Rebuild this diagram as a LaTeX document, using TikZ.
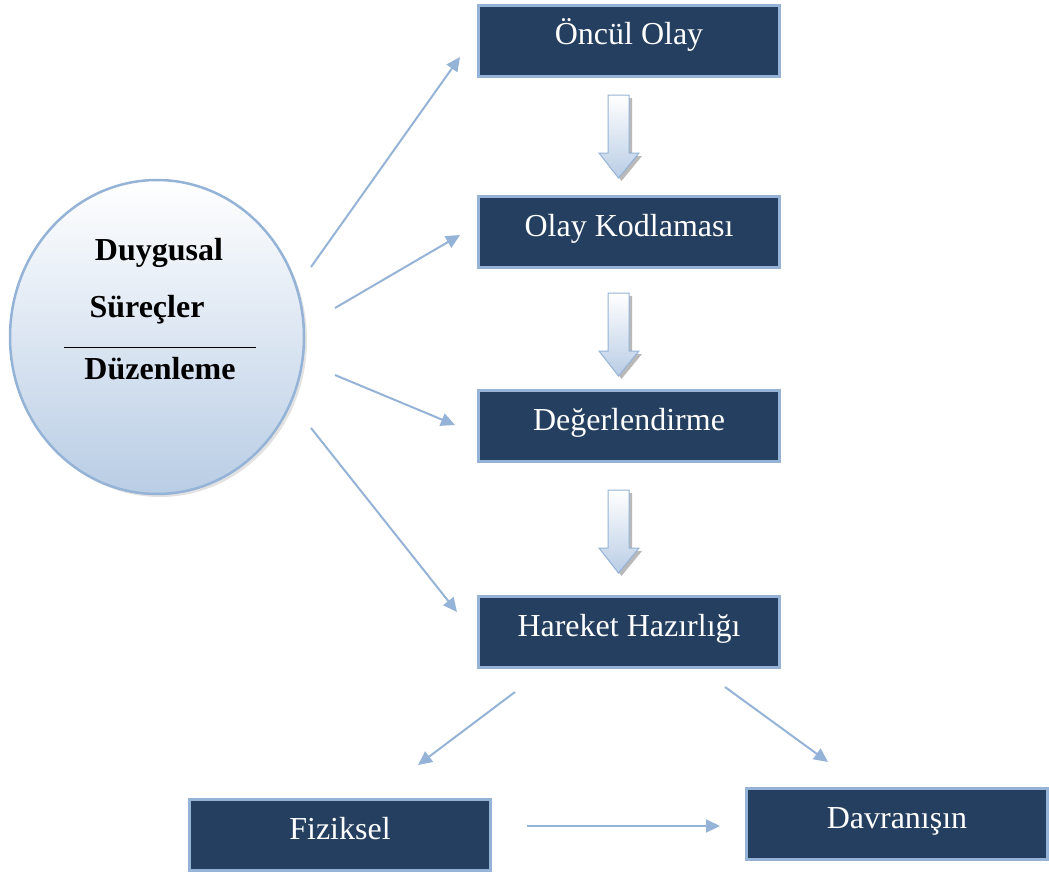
\documentclass[tikz,border=0pt]{standalone}
\usepackage{fontspec}
\setmainfont{Liberation Serif}
\usetikzlibrary{arrows.meta,shapes.geometric,shadows}
\definecolor{boxnavy}{HTML}{243F60}
\definecolor{edgeblue}{HTML}{95B3D7}
\definecolor{paleblue}{HTML}{B9CDE5}
\tikzset{
  stage/.style={rectangle,draw=edgeblue,line width=2.5pt,fill=boxnavy,text=white,
    minimum width=301,minimum height=71,text height=21pt,text depth=13pt,
    font=\fontsize{32}{38}\selectfont},
  link/.style={draw=edgeblue,line width=2pt,-{Triangle[length=14,width=13]}},
  circtext/.style={font=\fontsize{32}{38}\selectfont\bfseries,inner sep=0pt},
}
\begin{document}
\begin{tikzpicture}[x=1pt,y=-1pt]
\useasboundingbox (0,0) rectangle (1049,875);
% emotion circle
\node[ellipse,minimum width=294,minimum height=314,draw=edgeblue,line width=2.5pt,
  top color=white,bottom color=paleblue,
  drop shadow={shadow xshift=3pt,shadow yshift=-3pt,fill=gray!45}] (circ) at (157,337) {};
\node[circtext] (duy) at (159,253) {Duygusal};
\node[circtext] (sur) at (147,310) {Süreçler};
\node[circtext] (duz) at (160,369) {Düzenleme};
\draw[line width=1pt] (64,347) -- (256,347);
% stages
\node[stage] (b1) at (629,41) {Öncül Olay};
\node[stage] (b2) at (629,232) {Olay Kodlaması};
\node[stage] (b3) at (629,426) {Değerlendirme};
\node[stage] (b4) at (629,632) {Hareket Hazırlığı};
\node[stage] (b5) at (340,835) {Fiziksel};
\node[stage] (b6) at (897,824) {Davranışın};
% block arrows
\foreach \top in {95,293,490}{
  \fill[gray!55,shift={(3,3)}] (608,\top) -- (629,\top) -- (629,\top+58) -- (639,\top+58)
    -- (618.5,\top+83) -- (599,\top+58) -- (608,\top+58) -- cycle;
  \shade[top color=white,bottom color=paleblue,draw=edgeblue,line width=1pt]
    (608,\top) -- (629,\top) -- (629,\top+58) -- (639,\top+58)
    -- (618.5,\top+83) -- (599,\top+58) -- (608,\top+58) -- cycle;
}
% thin arrows
\coordinate (c1) at (311,267); \coordinate (t1) at (460,57);
\coordinate (c2) at (335,308); \coordinate (t2) at (460,235);
\coordinate (c3) at (335,375); \coordinate (t3) at (455,425);
\coordinate (c4) at (311,428); \coordinate (t4) at (457,612);
\coordinate (h1) at (515,692); \coordinate (f1) at (418,765);
\coordinate (h2) at (725,687); \coordinate (d1) at (828,762);
\coordinate (f2) at (527,826); \coordinate (d2) at (720,826);
\foreach \a/\b in {c1/t1,c2/t2,c3/t3,c4/t4,h1/f1,h2/d1,f2/d2}
  \draw[link] (\a) -- (\b);
\end{tikzpicture}
\end{document}
